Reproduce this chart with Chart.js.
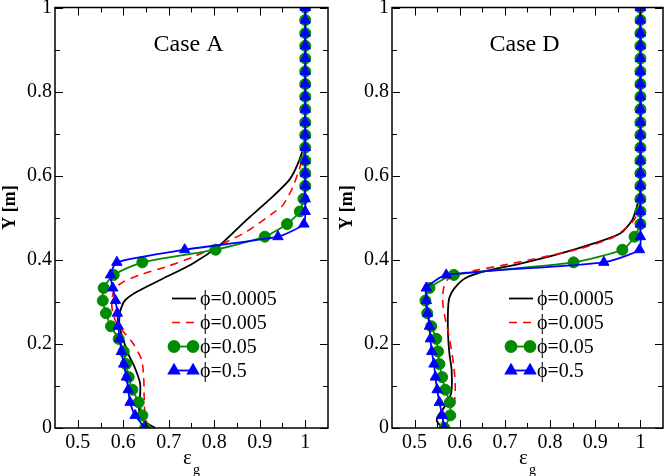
<!DOCTYPE html>
<html>
<head>
<meta charset="utf-8">
<script src="https://cdn.jsdelivr.net/npm/chart.js@4.4.1/dist/chart.umd.min.js"></script>
<style>
html, body { margin: 0; padding: 0; background: #fff; overflow: hidden; width: 670px; height: 476px; }
canvas { position: absolute; top: -20px; }
#chartA { left: 0; }
#chartD { left: 335px; }
</style>
</head>
<body>
<canvas id="chartA" width="335" height="496"></canvas>
<canvas id="chartD" width="335" height="496"></canvas>
<script>
(function () {
    "use strict";

    // Axis ticks
    var xTicks = [0.5, 0.6, 0.7, 0.8, 0.9, 1];
    var xTickLabels = ['0.5', '0.6', '0.7', '0.8', '0.9', '1'];
    var xMinor = [0.55, 0.65, 0.75, 0.85, 0.95];
    var yTicks = [0, 0.2, 0.4, 0.6, 0.8, 1];
    var yTickLabels = ['0', '0.2', '0.4', '0.6', '0.8', '1'];
    var yMinor = [0.1, 0.3, 0.5, 0.7, 0.9];
    var seriesNames = ['ϕ=0.0005', 'ϕ=0.005', 'ϕ=0.05', 'ϕ=0.5'];

    // Heights of the marked points (green / blue)
    var markerY = [0, 0.03, 0.061, 0.091, 0.121, 0.152, 0.182, 0.212, 0.242, 0.273, 0.303, 0.333,
        0.364, 0.394, 0.424, 0.455, 0.485, 0.515, 0.545, 0.576, 0.606, 0.636, 0.667, 0.697,
        0.727, 0.758, 0.788, 0.818, 0.848, 0.879, 0.909, 0.939, 0.97, 1];

    // Case A
    var caseA_blackX = [0.670, 0.648, 0.635, 0.637, 0.637, 0.626, 0.612, 0.600, 0.592, 0.592, 0.597, 0.605,
        0.630, 0.681, 0.754, 0.812, 0.871, 0.918, 0.965, 0.987, 0.998, 1, 1];
    var caseA_blackY = [0, 0.015, 0.04, 0.075, 0.106, 0.142, 0.174, 0.21, 0.24, 0.27, 0.29, 0.305,
        0.324, 0.352, 0.392, 0.435, 0.495, 0.54, 0.59, 0.637, 0.68, 0.72, 1];
    var caseA_redX = [0.655, 0.648, 0.646, 0.645, 0.641, 0.633, 0.619, 0.597, 0.582, 0.575, 0.576, 0.582,
        0.601, 0.637, 0.696, 0.754, 0.812, 0.871, 0.929, 0.951, 0.973, 0.991, 1, 1];
    var caseA_redY = [0, 0.03, 0.07, 0.12, 0.16, 0.18, 0.205, 0.233, 0.257, 0.288, 0.312, 0.332,
        0.348, 0.364, 0.384, 0.407, 0.435, 0.467, 0.511, 0.53, 0.574, 0.63, 0.68, 1];
    var caseA_green = [0.648, 0.642, 0.634, 0.620, 0.612, 0.606, 0.601, 0.590, 0.573, 0.562, 0.555, 0.557,
        0.579, 0.642, 0.803, 0.911, 0.960, 0.988, 0.996, 1, 1, 1, 1, 1,
        1, 1, 1, 1, 1, 1, 1, 1, 1, 1];
    var caseA_blue = [0.648, 0.626, 0.615, 0.611, 0.607, 0.601, 0.596, 0.592, 0.589, 0.587, 0.583, 0.577,
        0.572, 0.586, 0.735, 0.940, 0.997, 1, 1, 1, 1, 1, 1, 1,
        1, 1, 1, 1, 1, 1, 1, 1, 1, 1];

    // Case D
    var caseD_blackX = [0.562, 0.550, 0.551, 0.566, 0.581, 0.582, 0.577, 0.574, 0.574, 0.577, 0.588, 0.612,
        0.660, 0.730, 0.810, 0.897, 0.956, 0.982, 0.993, 1, 1];
    var caseD_blackY = [0, 0.015, 0.027, 0.05, 0.083, 0.138, 0.178, 0.225, 0.28, 0.31, 0.332, 0.356,
        0.374, 0.39, 0.411, 0.439, 0.463, 0.495, 0.53, 0.56, 1];
    var caseD_redX = [0.556, 0.562, 0.577, 0.588, 0.590, 0.587, 0.578, 0.572, 0.566, 0.562, 0.565, 0.574,
        0.600, 0.640, 0.700, 0.787, 0.868, 0.942, 0.986, 0.998, 1, 1];
    var caseD_redY = [0, 0.015, 0.027, 0.06, 0.1, 0.146, 0.209, 0.24, 0.27, 0.304, 0.336, 0.354,
        0.366, 0.376, 0.388, 0.407, 0.427, 0.455, 0.495, 0.53, 0.56, 1];
    var caseD_green = [0.566, 0.579, 0.578, 0.568, 0.561, 0.555, 0.552, 0.548, 0.537, 0.528, 0.524, 0.533,
        0.587, 0.852, 0.960, 0.987, 1, 1, 1, 1, 1, 1, 1, 1,
        1, 1, 1, 1, 1, 1, 1, 1, 1, 1];
    var caseD_blue = [0.566, 0.561, 0.555, 0.550, 0.546, 0.543, 0.538, 0.535, 0.533, 0.529, 0.526, 0.526,
        0.570, 0.919, 0.998, 1, 1, 1, 1, 1, 1, 1, 1, 1,
        1, 1, 1, 1, 1, 1, 1, 1, 1, 1];

    var FONT = "'Liberation Serif', 'Times New Roman', serif";

    function pairs(xs, ys) {
        return xs.map(function (x, i) { return {x: x, y: ys[i]}; });
    }

    // Frame, inward ticks, legend and titles
    var decorations = {
        id: 'decorations',
        afterDraw: function (chart, args, opts) {
            var ctx = chart.ctx, a = chart.chartArea;
            var xs = chart.scales.x, ys = chart.scales.y;
            ctx.save();
            ctx.strokeStyle = '#000';
            ctx.lineWidth = 1.5;
            ctx.strokeRect(a.left, a.top, a.right - a.left, a.bottom - a.top);

            ctx.lineWidth = 1;
            function seg(x1, y1, x2, y2) {
                ctx.beginPath(); ctx.moveTo(x1, y1); ctx.lineTo(x2, y2); ctx.stroke();
            }
            function tickX(v, len) {
                var p = Math.round(xs.getPixelForValue(v)) + 0.5;
                seg(p, a.bottom, p, a.bottom - len);
                seg(p, a.top, p, a.top + len);
            }
            function tickY(v, len) {
                var p = Math.round(ys.getPixelForValue(v)) + 0.5;
                seg(a.left, p, a.left + len, p);
                seg(a.right, p, a.right - len, p);
            }
            xTicks.forEach(function (v) { tickX(v, 8); });
            xMinor.forEach(function (v) { tickX(v, 5); });
            yTicks.forEach(function (v) { tickY(v, 8); });
            yMinor.forEach(function (v) { tickY(v, 5); });

            // panel title
            ctx.fillStyle = '#000';
            ctx.textAlign = 'center';
            ctx.textBaseline = 'middle';
            ctx.font = '24px ' + FONT;
            ctx.fillText(opts.title, (a.left + a.right) / 2 - 3, a.top + 37);

            // x axis title with subscript
            var cx = (a.left + a.right) / 2;
            ctx.font = '21px ' + FONT;
            ctx.fillText('ε', cx - 4, a.bottom + 30);
            ctx.font = '14px ' + FONT;
            ctx.fillText('g', cx + 5, a.bottom + 42);

            // y axis title
            ctx.save();
            ctx.translate(a.left - 45, a.top + 200);
            ctx.rotate(-Math.PI / 2);
            ctx.font = 'bold 18px ' + FONT;
            ctx.fillText('Y [m]', 0, 0);
            ctx.restore();

            // legend
            chart.data.datasets.forEach(function (ds, k) {
                var lx = a.left + 117, ly = a.top + 291 + k * 24;
                ctx.strokeStyle = ds.borderColor;
                ctx.lineWidth = ds.borderWidth;
                ctx.setLineDash(ds.borderDash || []);
                seg(lx, ly, lx + 24, ly);
                ctx.setLineDash([]);
                if (ds.pointRadius > 0) {
                    ctx.fillStyle = ds.pointBackgroundColor;
                    ctx.strokeStyle = ds.borderColor;
                    var pt = {pointStyle: ds.pointStyle, radius: ds.pointRadius, rotation: 0, borderWidth: 1};
                    Chart.helpers.drawPoint(ctx, pt, lx + 2, ly);
                    Chart.helpers.drawPoint(ctx, pt, lx + 21, ly);
                }
                ctx.fillStyle = '#000';
                ctx.textAlign = 'left';
                ctx.font = '20px ' + FONT;
                ctx.fillText(seriesNames[k], lx + 28, ly + 1);
            });
            ctx.restore();
        }
    };

    function panel(id, title, plotLeft, blackX, blackY, redX, redY, green, blue) {
        return new Chart(document.getElementById(id), {
            type: 'scatter',
            data: {
                datasets: [{
                    label: seriesNames[0],
                    data: pairs(blackX, blackY),
                    showLine: true, borderColor: '#000000', borderWidth: 1.8,
                    pointRadius: 0, tension: 0.25, order: 3
                }, {
                    label: seriesNames[1],
                    data: pairs(redX, redY),
                    showLine: true, borderColor: '#ff0000', borderWidth: 1.6, borderDash: [8, 6],
                    pointRadius: 0, tension: 0.25, order: 2
                }, {
                    label: seriesNames[2],
                    data: pairs(green, markerY),
                    showLine: true, borderColor: '#008b00', backgroundColor: '#008b00',
                    pointBackgroundColor: '#008b00', borderWidth: 1.8,
                    pointStyle: 'circle', pointRadius: 5.5, pointBorderWidth: 1, tension: 0.2, order: 1
                }, {
                    label: seriesNames[3],
                    data: pairs(blue, markerY),
                    showLine: true, borderColor: '#0000ff', backgroundColor: '#0000ff',
                    pointBackgroundColor: '#0000ff', borderWidth: 1.8,
                    pointStyle: 'triangle', pointRadius: 6, pointBorderWidth: 1, tension: 0.2, order: 0
                }]
            },
            options: {
                responsive: false,
                animation: false,
                events: [],
                layout: {padding: {top: 27.5, right: 335 - plotLeft - 273, bottom: 0, left: 0}},
                plugins: {
                    legend: {display: false},
                    tooltip: {enabled: false},
                    decorations: {title: title}
                },
                scales: {
                    x: {
                        type: 'linear', min: 0.45, max: 1.05,
                        grid: {display: false, drawTicks: false},
                        border: {display: false},
                        afterBuildTicks: function (s) { s.ticks = xTicks.map(function (v) { return {value: v}; }); },
                        afterFit: function (s) { s.height = 48; },
                        ticks: {
                            padding: 3, color: '#000', font: {family: FONT, size: 20},
                            callback: function (v) { return xTickLabels[xTicks.indexOf(v)]; }
                        }
                    },
                    y: {
                        type: 'linear', min: 0, max: 1,
                        grid: {display: false, drawTicks: false},
                        border: {display: false},
                        afterBuildTicks: function (s) { s.ticks = yTicks.map(function (v) { return {value: v}; }); },
                        afterFit: function (s) { s.width = plotLeft; },
                        ticks: {
                            padding: 3, color: '#000', font: {family: FONT, size: 20},
                            callback: function (v) { return yTickLabels[yTicks.indexOf(v)]; }
                        }
                    }
                }
            },
            plugins: [decorations]
        });
    }

    panel('chartA', 'Case A', 55, caseA_blackX, caseA_blackY, caseA_redX, caseA_redY, caseA_green, caseA_blue);
    panel('chartD', 'Case D', 57, caseD_blackX, caseD_blackY, caseD_redX, caseD_redY, caseD_green, caseD_blue);
})();
</script>
</body>
</html>
